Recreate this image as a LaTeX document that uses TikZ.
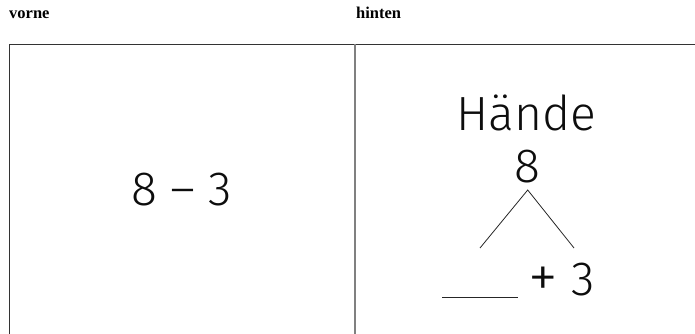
\documentclass[tikz,border=0pt]{standalone}
\usepackage{fontspec}
\newfontfamily\hdfont{Liberation Serif}
\newfontfamily\thinfont{Fira Sans Light}
\begin{document}
\begin{tikzpicture}[x=1pt,y=-1pt,
  hd/.style={anchor=base west,inner sep=0pt,font=\hdfont\bfseries\fontsize{16.5}{16.5}\selectfont},
  big/.style={anchor=base,inner sep=0pt,font=\thinfont\fontsize{48}{48}\selectfont,text=black!95},
  frame/.style={draw=black!80,line width=1pt},
  divider/.style={draw=black!50,line width=1.2pt},
  thin/.style={draw=black!85,line width=0.8pt}]
\useasboundingbox (0,0) rectangle (695,334);
\node[hd] (vorne) at (9,19) {vorne};
\node[hd] (hinten) at (356,19) {hinten};
\coordinate (tl) at (9,44.5);
\coordinate (tr) at (695,44.5);
\coordinate (bl) at (9,334);
\coordinate (mt) at (355,44.5);
\coordinate (mb) at (355,334);
\draw[frame] (bl) -- (tl) -- (tr);
\draw[divider] (mt) -- (mb);
\node[big] (front) at (181.5,205) {8 – 3};
\node[big] (haende) at (526.5,130) {Hände};
\node[big] (eight) at (527.5,182) {8};
\coordinate (apex) at (527.7,190);
\coordinate (lend) at (480,248);
\coordinate (rend) at (574,248);
\draw[thin] (lend) -- (apex) -- (rend);
\coordinate (bs) at (442,297);
\coordinate (be) at (518,297);
\draw[thin] (bs) -- (be);
\node[big,anchor=base west] (plus) at (528,295) {\raisebox{-2.5pt}{\scalebox{1.25}{+}}\hspace{0pt} 3};
\end{tikzpicture}
\end{document}
